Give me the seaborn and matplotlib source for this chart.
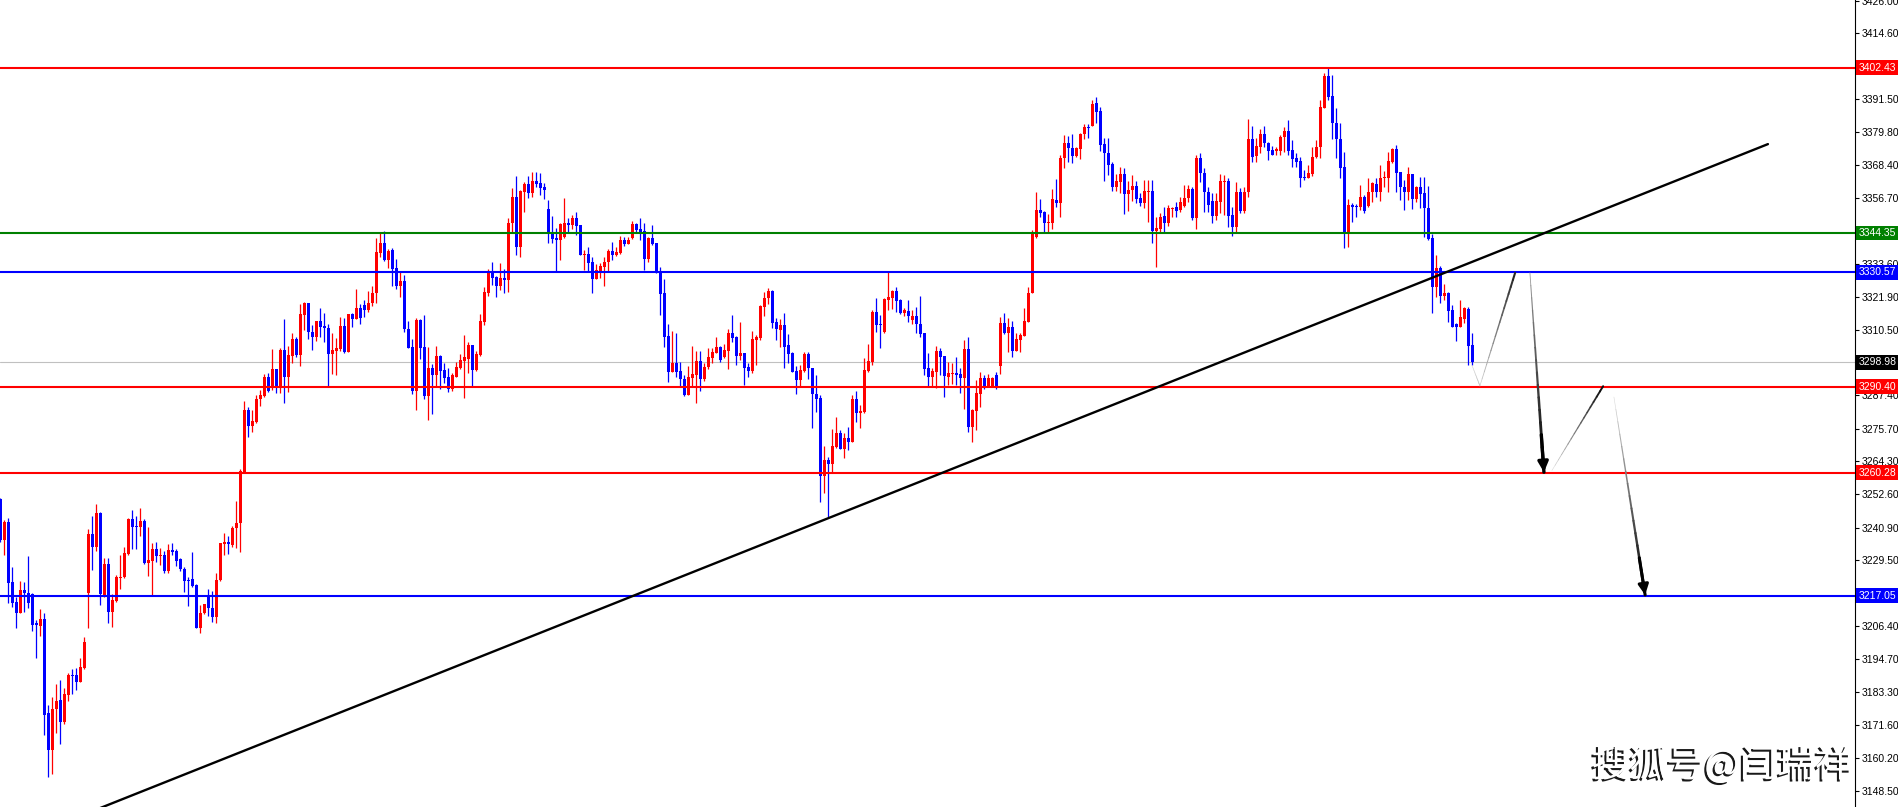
import numpy as np
import matplotlib
matplotlib.use("Agg")
import matplotlib.pyplot as plt
import matplotlib.patheffects as pe
import matplotlib.transforms as mtransforms
from matplotlib.collections import LineCollection
import seaborn as sns


# Candles (one bar per index)

opens = [
    3250.9, 3236.6, 3243.0, 3221.9, 3214.8, 3211.1, 3219.1, 3217.9, 3217.6, 3207.3,
    3206.5, 3208.9, 3176.0, 3162.7, 3177.3, 3180.4, 3172.6, 3182.2, 3189.1, 3189.2,
    3186.9, 3191.6, 3217.9, 3238.7, 3234.3, 3246.2, 3216.5, 3228.2, 3211.4, 3215.3,
    3223.4, 3223.7, 3231.7, 3243.8, 3241.5, 3241.3, 3243.4, 3228.6, 3229.3, 3233.4,
    3231.0, 3231.3, 3225.8, 3233.1, 3232.7, 3229.9, 3226.4, 3222.6, 3222.9, 3220.8,
    3205.8, 3210.9, 3217.0, 3212.8, 3209.5, 3222.6, 3235.2, 3235.9, 3234.8, 3240.7,
    3242.4, 3260.6, 3282.2, 3276.7, 3278.1, 3286.0, 3287.2, 3293.7, 3289.8, 3296.5,
    3290.4, 3303.3, 3293.9, 3301.3, 3307.2, 3301.5, 3315.6, 3319.7, 3309.7, 3308.0,
    3313.5, 3311.7, 3310.9, 3301.9, 3303.1, 3303.7, 3311.7, 3302.5, 3315.9, 3314.1,
    3317.9, 3319.1, 3317.4, 3319.7, 3323.2, 3337.5, 3340.8, 3334.9, 3338.4, 3332.2,
    3325.8, 3327.5, 3310.7, 3304.2, 3288.9, 3313.8, 3304.2, 3287.3, 3296.9, 3294.5,
    3301.2, 3296.3, 3293.9, 3289.6, 3293.9, 3297.1, 3299.6, 3300.1, 3305.1, 3296.3,
    3301.5, 3313.0, 3323.4, 3330.5, 3329.0, 3325.8, 3328.6, 3327.9, 3347.8, 3357.1,
    3339.6, 3358.9, 3361.6, 3358.5, 3362.6, 3362.1, 3360.7, 3352.8, 3344.3, 3342.7,
    3341.9, 3342.9, 3348.0, 3347.2, 3349.8, 3347.2, 3336.7, 3337.0, 3334.3, 3328.2,
    3331.2, 3332.5, 3334.1, 3338.2, 3336.7, 3337.2, 3341.9, 3340.5, 3342.5, 3347.5,
    3345.8, 3345.2, 3335.2, 3342.7, 3341.0, 3330.5, 3323.4, 3308.3, 3295.7, 3298.6,
    3296.1, 3293.2, 3287.5, 3293.4, 3294.5, 3299.6, 3293.1, 3297.2, 3300.4, 3302.4,
    3304.5, 3300.7, 3303.1, 3309.4, 3308.0, 3301.3, 3302.4, 3297.4, 3296.0, 3306.8,
    3307.4, 3318.5, 3321.4, 3324.1, 3313.3, 3310.3, 3312.1, 3305.1, 3302.1, 3296.0,
    3292.8, 3296.0, 3301.9, 3297.1, 3287.9, 3286.5, 3259.2, 3264.7, 3263.2, 3269.4,
    3274.3, 3268.6, 3272.5, 3270.9, 3286.1, 3281.3, 3281.4, 3296.0, 3299.2, 3316.5,
    3312.4, 3309.8, 3320.9, 3321.4, 3324.1, 3320.9, 3316.2, 3317.0, 3313.8, 3315.4,
    3312.4, 3309.2, 3296.9, 3293.9, 3295.7, 3303.1, 3301.2, 3293.9, 3294.9, 3295.1,
    3294.9, 3293.6, 3303.7, 3276.4, 3281.9, 3287.9, 3293.4, 3290.7, 3290.4, 3294.5,
    3297.8, 3312.9, 3309.4, 3311.3, 3303.1, 3306.8, 3308.3, 3313.3, 3323.2, 3343.1,
    3352.5, 3351.9, 3348.0, 3348.0, 3356.0, 3355.0, 3370.6, 3375.9, 3374.1, 3371.4,
    3373.9, 3379.0, 3381.6, 3382.1, 3389.9, 3387.2, 3375.6, 3372.6, 3368.6, 3360.7,
    3362.4, 3365.1, 3358.1, 3359.5, 3361.0, 3356.7, 3355.0, 3358.9, 3359.1, 3345.1,
    3345.8, 3350.4, 3348.0, 3352.7, 3353.6, 3352.5, 3353.9, 3356.6, 3359.8, 3349.8,
    3370.6, 3365.3, 3358.9, 3355.5, 3350.5, 3355.4, 3362.2, 3362.6, 3350.7, 3346.6,
    3358.8, 3352.2, 3358.9, 3377.4, 3371.4, 3374.7, 3379.2, 3375.9, 3373.5, 3373.2,
    3373.2, 3378.0, 3380.2, 3373.5, 3370.8, 3369.7, 3364.2, 3363.6, 3365.1, 3370.9,
    3374.7, 3388.2, 3399.5, 3392.5, 3382.9, 3377.3, 3367.7, 3344.5, 3354.2, 3354.0,
    3353.4, 3357.1, 3354.0, 3358.7, 3361.6, 3358.9, 3363.6, 3363.6, 3369.4, 3373.8,
    3365.9, 3360.6, 3358.9, 3365.1, 3356.3, 3360.6, 3358.3, 3353.0, 3342.5, 3325.5,
    3332.2, 3322.3, 3323.4, 3317.4, 3312.4, 3311.5, 3314.1, 3317.6, 3305.1,
]

highs = [
    3251.2, 3243.6, 3244.4, 3227.2, 3216.7, 3222.3, 3222.0, 3231.1, 3217.9, 3208.5,
    3212.3, 3210.9, 3178.7, 3181.6, 3186.1, 3187.5, 3184.5, 3189.8, 3191.4, 3191.6,
    3195.1, 3202.7, 3240.5, 3245.0, 3249.2, 3246.5, 3230.2, 3230.4, 3217.6, 3224.3,
    3231.3, 3234.0, 3244.4, 3247.1, 3245.1, 3248.0, 3243.8, 3241.0, 3235.4, 3236.0,
    3233.7, 3232.7, 3235.2, 3235.4, 3233.4, 3230.2, 3227.2, 3223.5, 3232.4, 3221.0,
    3213.8, 3214.0, 3219.4, 3218.8, 3224.9, 3235.7, 3238.9, 3238.0, 3241.5, 3250.3,
    3261.4, 3285.5, 3283.4, 3282.2, 3287.5, 3289.3, 3294.9, 3295.1, 3303.5, 3296.5,
    3303.9, 3314.1, 3304.7, 3309.2, 3308.0, 3319.4, 3320.3, 3319.9, 3312.1, 3313.5,
    3317.9, 3316.2, 3312.3, 3309.2, 3307.4, 3315.0, 3314.4, 3315.9, 3316.4, 3324.7,
    3319.4, 3320.9, 3324.0, 3325.8, 3342.7, 3344.3, 3345.1, 3338.8, 3339.0, 3335.3,
    3331.0, 3329.6, 3313.5, 3307.2, 3314.4, 3314.1, 3315.6, 3304.2, 3298.4, 3304.7,
    3301.5, 3298.9, 3296.9, 3295.1, 3299.1, 3301.9, 3308.6, 3306.0, 3305.1, 3302.9,
    3315.9, 3325.5, 3331.7, 3334.3, 3329.3, 3333.9, 3331.7, 3349.5, 3360.3, 3364.4,
    3359.5, 3362.2, 3364.4, 3365.8, 3365.8, 3365.6, 3361.8, 3356.0, 3350.4, 3346.0,
    3347.8, 3356.8, 3349.8, 3350.7, 3351.9, 3347.2, 3338.4, 3339.6, 3336.1, 3333.5,
    3333.9, 3335.8, 3338.9, 3341.2, 3339.4, 3343.3, 3342.9, 3342.9, 3348.6, 3348.0,
    3349.5, 3348.0, 3343.1, 3347.2, 3341.0, 3332.5, 3328.2, 3312.4, 3310.0, 3309.4,
    3299.2, 3294.5, 3297.7, 3304.7, 3303.1, 3303.0, 3298.6, 3304.1, 3303.9, 3308.0,
    3304.7, 3305.4, 3310.7, 3315.6, 3308.2, 3313.3, 3302.4, 3298.6, 3310.0, 3308.6,
    3319.1, 3323.8, 3325.2, 3324.4, 3314.4, 3314.1, 3316.2, 3308.9, 3302.5, 3297.7,
    3298.0, 3302.7, 3302.7, 3297.1, 3294.5, 3287.5, 3269.6, 3265.6, 3275.4, 3279.9,
    3275.2, 3274.3, 3276.2, 3287.5, 3289.0, 3284.0, 3300.4, 3305.3, 3317.4, 3321.7,
    3315.6, 3321.4, 3331.2, 3324.4, 3325.5, 3321.2, 3318.2, 3320.9, 3317.4, 3318.5,
    3322.4, 3309.2, 3302.1, 3296.9, 3304.7, 3304.1, 3301.2, 3299.2, 3298.9, 3300.7,
    3296.9, 3306.8, 3307.8, 3282.5, 3292.8, 3295.7, 3294.5, 3294.8, 3293.9, 3295.5,
    3315.0, 3316.4, 3314.4, 3313.6, 3309.2, 3309.2, 3317.9, 3325.5, 3345.4, 3358.9,
    3356.3, 3352.1, 3351.1, 3359.8, 3363.4, 3371.8, 3378.8, 3378.4, 3379.1, 3374.7,
    3379.6, 3382.7, 3382.7, 3391.1, 3392.0, 3388.8, 3377.6, 3377.9, 3369.2, 3365.0,
    3367.7, 3367.3, 3362.8, 3364.8, 3362.8, 3358.6, 3363.0, 3363.0, 3363.0, 3350.1,
    3351.3, 3353.6, 3354.2, 3353.6, 3355.4, 3357.2, 3361.2, 3361.2, 3360.7, 3371.8,
    3372.4, 3367.1, 3360.7, 3358.3, 3358.3, 3365.0, 3364.8, 3363.8, 3353.6, 3362.4,
    3360.1, 3360.7, 3384.4, 3382.0, 3377.6, 3380.8, 3382.0, 3376.5, 3374.9, 3374.7,
    3378.8, 3381.5, 3384.1, 3377.0, 3372.4, 3371.2, 3366.5, 3368.3, 3374.5, 3377.0,
    3391.1, 3400.5, 3402.43, 3399.9, 3388.2, 3382.9, 3372.9, 3356.2, 3354.8, 3354.6,
    3361.2, 3357.7, 3363.6, 3362.4, 3363.6, 3368.3, 3366.3, 3372.9, 3374.3, 3375.3,
    3365.9, 3363.0, 3367.7, 3365.1, 3360.9, 3364.2, 3364.2, 3360.9, 3343.9, 3336.6,
    3332.8, 3326.5, 3323.8, 3319.1, 3312.7, 3320.9, 3318.5, 3318.5, 3309.1,
]

lows = [
    3236.0, 3231.3, 3214.4, 3213.2, 3205.8, 3211.1, 3211.4, 3212.6, 3204.8, 3195.1,
    3203.0, 3168.1, 3153.5, 3154.4, 3168.7, 3165.0, 3172.0, 3179.9, 3182.5, 3183.9,
    3186.9, 3191.2, 3205.6, 3226.1, 3232.7, 3213.8, 3216.5, 3207.6, 3206.2, 3214.9,
    3219.4, 3223.2, 3231.3, 3233.3, 3233.6, 3238.1, 3228.2, 3224.1, 3217.3, 3229.0,
    3227.8, 3224.9, 3224.9, 3231.3, 3227.5, 3225.8, 3218.5, 3213.4, 3220.0, 3205.6,
    3204.1, 3210.6, 3210.0, 3207.9, 3207.3, 3222.3, 3231.3, 3231.7, 3234.3, 3233.7,
    3232.5, 3260.6, 3272.9, 3274.6, 3277.6, 3283.8, 3286.9, 3288.7, 3289.3, 3288.1,
    3288.1, 3284.8, 3288.7, 3298.9, 3300.7, 3297.8, 3310.3, 3307.2, 3303.3, 3306.5,
    3308.0, 3306.2, 3290.4, 3294.9, 3294.5, 3303.1, 3302.1, 3302.5, 3311.5, 3314.1,
    3312.4, 3315.0, 3316.8, 3318.9, 3319.7, 3336.1, 3334.7, 3332.0, 3325.8, 3324.7,
    3322.0, 3309.7, 3303.9, 3287.9, 3282.2, 3300.1, 3286.1, 3278.7, 3280.8, 3290.7,
    3289.7, 3291.8, 3288.6, 3289.0, 3293.9, 3296.6, 3286.6, 3295.1, 3290.4, 3295.9,
    3301.3, 3312.1, 3322.3, 3326.1, 3322.0, 3324.4, 3323.2, 3323.8, 3344.3, 3336.7,
    3336.1, 3351.9, 3356.8, 3357.1, 3360.7, 3357.7, 3356.3, 3341.0, 3341.0, 3331.2,
    3334.9, 3342.5, 3344.3, 3345.7, 3343.7, 3336.7, 3331.4, 3330.8, 3323.4, 3328.2,
    3328.5, 3325.8, 3331.0, 3334.9, 3336.3, 3336.9, 3339.8, 3340.4, 3342.2, 3344.5,
    3341.9, 3331.4, 3334.3, 3340.2, 3330.5, 3315.6, 3304.5, 3292.2, 3295.7, 3293.9,
    3290.7, 3287.2, 3287.5, 3290.2, 3284.8, 3289.0, 3292.5, 3296.5, 3298.6, 3302.1,
    3299.2, 3300.4, 3296.6, 3306.2, 3298.0, 3299.8, 3291.0, 3293.9, 3295.4, 3298.0,
    3306.8, 3315.4, 3319.3, 3310.9, 3306.8, 3304.5, 3297.1, 3298.6, 3295.5, 3287.9,
    3290.4, 3295.7, 3293.1, 3276.0, 3281.4, 3249.8, 3253.2, 3244.8, 3260.2, 3268.8,
    3268.4, 3265.5, 3268.2, 3270.9, 3277.9, 3276.0, 3281.1, 3295.5, 3298.0, 3309.8,
    3304.1, 3309.4, 3317.4, 3317.6, 3316.8, 3315.8, 3315.2, 3313.3, 3312.4, 3309.2,
    3307.8, 3294.5, 3290.7, 3290.7, 3290.1, 3294.5, 3286.9, 3291.0, 3291.4, 3291.0,
    3288.1, 3282.5, 3274.6, 3271.1, 3275.2, 3283.4, 3289.5, 3290.2, 3290.2, 3289.5,
    3294.9, 3308.9, 3302.7, 3300.9, 3303.1, 3302.7, 3308.3, 3313.3, 3323.2, 3342.5,
    3350.1, 3344.9, 3344.9, 3345.7, 3353.6, 3350.1, 3367.3, 3369.4, 3369.1, 3371.2,
    3370.4, 3377.4, 3377.9, 3382.1, 3382.9, 3373.3, 3362.8, 3364.8, 3359.1, 3359.1,
    3358.3, 3350.9, 3352.2, 3355.7, 3354.8, 3354.0, 3353.1, 3348.4, 3340.8, 3332.6,
    3344.5, 3344.9, 3346.9, 3350.1, 3350.1, 3351.6, 3353.6, 3355.4, 3348.9, 3345.8,
    3362.4, 3351.9, 3351.9, 3347.8, 3348.9, 3351.3, 3350.7, 3346.6, 3343.5, 3344.5,
    3351.3, 3351.3, 3357.2, 3369.4, 3369.4, 3372.6, 3374.5, 3370.0, 3371.8, 3371.8,
    3371.8, 3372.9, 3371.8, 3367.7, 3367.5, 3360.7, 3363.0, 3363.6, 3364.5, 3370.6,
    3370.6, 3388.2, 3391.1, 3377.4, 3370.6, 3363.6, 3339.0, 3339.6, 3348.4, 3350.1,
    3352.5, 3351.5, 3353.6, 3355.4, 3357.1, 3355.6, 3360.6, 3358.9, 3368.8, 3358.9,
    3356.0, 3352.5, 3356.0, 3352.7, 3355.4, 3353.0, 3343.1, 3341.9, 3316.2, 3322.0,
    3319.9, 3320.9, 3313.3, 3311.5, 3306.6, 3311.5, 3312.9, 3298.0, 3298.0,
]

closes = [
    3236.6, 3243.0, 3221.6, 3214.6, 3211.1, 3219.1, 3218.1, 3214.4, 3206.8, 3206.6,
    3208.9, 3175.2, 3162.7, 3177.3, 3180.2, 3172.8, 3182.5, 3189.2, 3189.0, 3186.9,
    3191.9, 3200.9, 3238.7, 3234.3, 3246.2, 3217.6, 3228.2, 3211.4, 3215.5, 3223.7,
    3223.7, 3232.2, 3244.1, 3241.3, 3241.3, 3243.4, 3228.6, 3229.6, 3233.4, 3231.1,
    3231.2, 3225.8, 3233.1, 3232.4, 3229.3, 3226.3, 3222.3, 3222.3, 3220.6, 3205.8,
    3210.9, 3214.0, 3212.8, 3209.5, 3222.6, 3235.4, 3235.8, 3235.1, 3240.8, 3242.4,
    3260.8, 3282.2, 3276.7, 3278.4, 3286.1, 3287.5, 3293.7, 3289.0, 3296.5, 3290.4,
    3303.3, 3293.9, 3301.5, 3307.2, 3301.5, 3315.9, 3319.7, 3309.7, 3308.0, 3313.5,
    3311.5, 3310.9, 3301.9, 3303.3, 3303.9, 3311.7, 3302.5, 3315.9, 3314.1, 3317.9,
    3314.7, 3317.4, 3319.7, 3323.2, 3337.6, 3340.8, 3334.9, 3338.0, 3331.7, 3325.8,
    3327.5, 3310.7, 3303.9, 3288.9, 3313.8, 3304.1, 3287.3, 3296.9, 3294.5, 3301.2,
    3296.0, 3293.6, 3289.6, 3294.5, 3297.2, 3299.8, 3300.7, 3305.1, 3296.3, 3301.9,
    3313.5, 3323.5, 3330.2, 3328.7, 3325.8, 3328.6, 3327.9, 3348.0, 3357.1, 3339.6,
    3359.2, 3361.6, 3358.5, 3362.6, 3361.6, 3360.3, 3359.5, 3343.9, 3342.3, 3341.9,
    3347.5, 3348.0, 3347.2, 3349.5, 3346.8, 3336.7, 3337.0, 3333.9, 3328.2, 3331.4,
    3332.8, 3334.3, 3338.2, 3336.7, 3337.8, 3341.9, 3340.5, 3341.9, 3347.5, 3345.4,
    3344.9, 3335.2, 3342.7, 3340.4, 3330.5, 3323.0, 3308.0, 3295.7, 3298.6, 3295.7,
    3293.0, 3287.5, 3293.7, 3294.9, 3299.6, 3293.1, 3297.4, 3301.0, 3302.7, 3304.5,
    3299.8, 3303.3, 3309.4, 3307.6, 3301.3, 3302.4, 3297.1, 3296.1, 3307.2, 3308.0,
    3318.8, 3321.7, 3324.1, 3312.9, 3310.7, 3312.1, 3304.5, 3301.9, 3295.7, 3292.8,
    3296.3, 3301.9, 3296.9, 3287.9, 3286.1, 3259.2, 3264.7, 3263.2, 3269.6, 3274.3,
    3268.6, 3272.5, 3270.9, 3286.1, 3281.3, 3282.0, 3296.3, 3299.6, 3316.5, 3312.1,
    3312.1, 3321.2, 3322.0, 3324.1, 3320.5, 3316.2, 3317.4, 3315.4, 3315.4, 3312.4,
    3308.9, 3296.6, 3293.9, 3295.9, 3303.1, 3300.9, 3294.2, 3295.4, 3295.1, 3294.5,
    3293.6, 3303.7, 3276.4, 3282.2, 3288.1, 3293.4, 3290.4, 3293.4, 3293.4, 3290.4,
    3312.9, 3309.4, 3311.3, 3303.1, 3307.2, 3308.6, 3313.5, 3323.4, 3344.8, 3352.5,
    3351.5, 3348.0, 3348.2, 3356.3, 3355.0, 3370.6, 3375.9, 3374.1, 3371.4, 3374.1,
    3379.1, 3381.6, 3381.4, 3389.7, 3387.0, 3375.3, 3372.4, 3368.3, 3360.7, 3362.6,
    3365.1, 3358.1, 3359.5, 3361.0, 3356.3, 3355.0, 3359.1, 3359.1, 3345.1, 3346.0,
    3350.1, 3348.0, 3353.3, 3353.3, 3352.1, 3355.4, 3356.8, 3359.8, 3349.8, 3370.6,
    3365.3, 3358.9, 3354.2, 3350.5, 3355.6, 3362.6, 3362.6, 3350.4, 3346.6, 3358.8,
    3352.2, 3358.9, 3377.4, 3371.2, 3374.9, 3379.2, 3375.9, 3373.2, 3371.8, 3373.9,
    3378.2, 3380.2, 3373.2, 3370.3, 3369.4, 3363.6, 3363.6, 3365.3, 3370.9, 3374.7,
    3388.8, 3399.5, 3392.3, 3382.9, 3377.3, 3367.3, 3344.5, 3354.2, 3353.6, 3353.6,
    3357.1, 3352.2, 3358.9, 3361.8, 3358.9, 3363.8, 3363.8, 3369.7, 3373.8, 3365.6,
    3360.4, 3358.9, 3365.1, 3356.3, 3360.6, 3358.1, 3353.0, 3342.2, 3325.5, 3332.0,
    3322.3, 3323.2, 3317.1, 3311.5, 3311.5, 3315.0, 3318.2, 3304.8, 3298.98,
]


# Horizontal levels and the price tags on the axis

level_prices = [3402.43, 3344.35, 3330.57, 3290.40, 3260.28, 3217.05]
level_colors = ["#ff0000", "#008000", "#0000ff", "#ff0000", "#ff0000", "#0000ff"]

current_price = 3298.98

tag_prices = [3402.43, 3344.35, 3330.57, 3298.98, 3290.40, 3260.28, 3217.05]
tag_colors = ["#ff0000", "#008000", "#0000ff", "#000000",
              "#ff0000", "#ff0000", "#0000ff"]

tick_values = [
    3426.00, 3414.60, 3391.50, 3379.80, 3368.40, 3356.70, 3333.60,
    3321.90, 3310.50, 3287.40, 3275.70, 3264.30, 3252.60, 3240.90,
    3229.50, 3206.40, 3194.70, 3183.30, 3171.60, 3160.20, 3148.50,
]

# Trend line (bar index, price)

trend_idx = [20.0, 441.9]
trend_price = [3139.7, 3375.6]

# Projected path strokes (bar index, price)

lead_idx = [367.9, 369.9]
lead_price = [3298.0, 3290.7]
rise1_idx = [369.9, 378.7]
rise1_price = [3290.7, 3330.4]
drop1_idx = [382.4, 385.9]
drop1_price = [3330.4, 3260.4]
rise2_idx = [387.9, 400.7]
rise2_price = [3261.0, 3290.6]
drop2_idx = [403.4, 411.2]
drop2_price = [3286.8, 3217.3]

watermark = "搜狐号@闫瑞祥"


sns.set_style("white")
plt.rcParams["font.family"] = ["Liberation Sans", "DejaVu Sans"]

W, H = 1899, 807
AXIS_X = 1855

fig = plt.figure(figsize=(W / 100, H / 100), dpi=100)
ax = fig.add_axes([0, 0, AXIS_X / W, 1])

o = np.array(opens)
h = np.array(highs)
l = np.array(lows)
c = np.array(closes)
idx = np.arange(len(o))

candle_colors = np.where(c >= o, "#ff0000", "#0000ff")

# Wicks and bodies

ax.vlines(idx, l, h, colors=candle_colors, linewidth=0.9, zorder=2)

body_bottom = np.minimum(o, c)
body_height = np.maximum(np.abs(c - o), 0.35)

ax.bar(
    idx,
    body_height,
    bottom=body_bottom,
    width=0.75,
    color=candle_colors,
    linewidth=0,
    zorder=2
)

# Levels

ax.axhline(current_price, color="#c0c0c0", linewidth=0.8, zorder=1)

for price, col in zip(level_prices, level_colors):
    ax.axhline(price, color=col, linewidth=1.5, zorder=3)

# Trend line

sns.lineplot(
    x=trend_idx,
    y=trend_price,
    color="black",
    linewidth=1.7,
    ax=ax,
    zorder=4
)


def brush(xs, ps, w0, w1, g0, g1, head=False):
    # stroke that gets thicker and darker towards its end
    t = np.linspace(0, 1, 17)
    x = xs[0] + (xs[1] - xs[0]) * t
    y = ps[0] + (ps[1] - ps[0]) * t
    pts = np.column_stack([x, y])
    segs = np.stack([pts[:-1], pts[1:]], axis=1)
    widths = np.linspace(w0, w1, len(segs))
    greys = np.linspace(g0, g1, len(segs))
    ax.add_collection(
        LineCollection(
            segs,
            linewidths=widths,
            colors=[(g, g, g) for g in greys],
            capstyle="round",
            zorder=6
        )
    )
    if head:
        ax.annotate(
            "",
            xy=(xs[1], ps[1]),
            xytext=(x[-4], y[-4]),
            arrowprops=dict(
                arrowstyle="-|>,head_length=0.6,head_width=0.3",
                color="black",
                lw=w1,
                shrinkA=0,
                shrinkB=0
            ),
            zorder=7
        )


brush(lead_idx, lead_price, 0.4, 0.6, 0.85, 0.75)
brush(rise1_idx, rise1_price, 0.5, 1.5, 0.8, 0.15)
brush(drop1_idx, drop1_price, 0.6, 2.4, 0.6, 0.0, head=True)
brush(rise2_idx, rise2_price, 0.4, 1.4, 0.85, 0.05)
brush(drop2_idx, drop2_price, 0.4, 2.2, 0.85, 0.0, head=True)

# Axis styling

ax.set_xlim(-0.08, (AXIS_X - 0.33) / 4)
ax.set_ylim(3142.84, 3426.20)

for side in ["top", "left", "bottom"]:
    ax.spines[side].set_visible(False)

ax.spines["right"].set_color("black")
ax.spines["right"].set_linewidth(0.8)

ax.set_xticks([])
ax.yaxis.tick_right()
ax.set_yticks(tick_values)
ax.set_yticklabels([f"{v:.2f}" for v in tick_values])
ax.tick_params(
    axis="y",
    length=3,
    width=0.8,
    pad=2,
    labelsize=7.5,
    colors="black"
)

tag_trans = mtransforms.blended_transform_factory(ax.transAxes, ax.transData)

for price, col in zip(tag_prices, tag_colors):
    ax.text(
        1.0018,
        price,
        f"{price:.2f}",
        transform=tag_trans,
        ha="left",
        va="center",
        fontsize=7.5,
        color="white",
        clip_on=False,
        zorder=10,
        bbox=dict(boxstyle="square,pad=0.22", fc=col, ec="none")
    )

# Watermark

fig.text(
    1722 / W,
    1 - 766 / H,
    watermark,
    fontsize=27,
    color="white",
    family=["Noto Sans CJK SC", "DejaVu Sans"],
    ha="center",
    va="center",
    path_effects=[
        pe.SimplePatchShadow(offset=(-1.5, -1.5), shadow_rgbFace="black", alpha=0.9),
        pe.Normal()
    ]
)

fig.savefig("out.png", dpi=100, facecolor="white")
plt.close(fig)
